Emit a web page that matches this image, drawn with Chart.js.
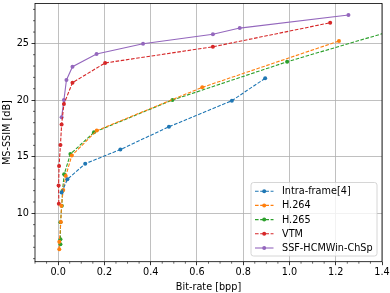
<!DOCTYPE html>
<html>
<head>
<meta charset="utf-8">
<script src="https://cdn.jsdelivr.net/npm/chart.js@4.4.0/dist/chart.umd.min.js"></script>
<style>
  html, body { margin: 0; padding: 0; background: #fff; }
  #wrap { width: 390px; height: 293px; }
</style>
</head>
<body>
<div id="wrap"><canvas id="rd"></canvas></div>
<script>
// values (bpp, dB)
const intraX = [0.015, 0.040, 0.117, 0.269, 0.479, 0.751, 0.895];
const intraY = [11.84, 13.0, 14.38, 15.63, 17.64, 19.94, 21.92];

const h264X = [0.005, 0.005, 0.012, 0.014, 0.022, 0.033, 0.059, 0.167, 0.623, 1.214];
const h264Y = [6.82, 7.49, 9.23, 10.67, 12.06, 13.29, 15.10, 17.30, 21.12, 25.21];

const h265X = [0.010, 0.010, 0.010, 0.016, 0.019, 0.026, 0.053, 0.155, 0.494, 0.990, 1.50];
const h265Y = [7.27, 7.71, 9.21, 10.67, 12.0, 13.44, 15.23, 17.15, 20.0, 23.38, 26.45];

const vtmX = [0.003, 0.002, 0.004, 0.010, 0.015, 0.025, 0.062, 0.203, 0.669, 1.176];
const vtmY = [10.85, 12.45, 14.17, 16.03, 17.84, 19.65, 21.53, 23.27, 24.70, 26.82];

const ssfX = [0.015, 0.025, 0.036, 0.062, 0.166, 0.367, 0.669, 0.785, 1.255];
const ssfY = [18.47, 20.0, 21.77, 22.94, 24.06, 24.97, 25.80, 26.35, 27.50];

const seriesNames = ["Intra-frame[4]", "H.264", "H.265", "VTM", "SSF-HCMWin-ChSp"];
const seriesColors = ["#1f77b4", "#ff7f0e", "#2ca02c", "#d62728", "#9467bd"];
const xTickVals = [0.0, 0.2, 0.4, 0.6, 0.8, 1.0, 1.2, 1.4];
const yTickVals = [10, 15, 20, 25];

const FONT = "DejaVu Sans";
const FS = 9.7;
const DASH = [3.6, 1.6];

function pts(xs, ys) { return xs.map((x, i) => ({ x: x, y: ys[i] })); }

function makeSet(i, xs, ys, dashed) {
  return {
    label: seriesNames[i],
    data: pts(xs, ys),
    showLine: true,
    borderColor: seriesColors[i],
    backgroundColor: seriesColors[i],
    borderWidth: 1.1,
    borderDash: dashed ? DASH : [],
    pointRadius: 2,
    pointBorderWidth: 0,
    pointHoverRadius: 2,
    tension: 0
  };
}

// spines, minor ticks and the legend box drawn on top
const frameAndLegend = {
  id: 'frameAndLegend',
  afterDraw(chart) {
    const ctx = chart.ctx, a = chart.chartArea;
    const xs = chart.scales.x, ys = chart.scales.y;
    ctx.save();
    // minor ticks
    ctx.strokeStyle = '#000';
    ctx.lineWidth = 0.6;
    ctx.beginPath();
    for (let k = -2; k <= 28; k++) {
      const v = k * 0.05;
      if (k % 4 === 0) continue;
      const px = xs.getPixelForValue(v);
      ctx.moveTo(px, a.bottom); ctx.lineTo(px, a.bottom + 2);
    }
    for (let v = 6; v <= 28; v++) {
      if (v % 5 === 0) continue;
      const py = ys.getPixelForValue(v);
      ctx.moveTo(a.left, py); ctx.lineTo(a.left - 2, py);
    }
    ctx.stroke();
    // spines
    ctx.lineWidth = 0.8;
    ctx.strokeRect(a.left, a.top, a.right - a.left, a.bottom - a.top);

    // legend
    const bx = 251, by = 182.5, bw = 126, bh = 73.5, r = 2.5;
    ctx.beginPath();
    ctx.moveTo(bx + r, by);
    ctx.arcTo(bx + bw, by, bx + bw, by + bh, r);
    ctx.arcTo(bx + bw, by + bh, bx, by + bh, r);
    ctx.arcTo(bx, by + bh, bx, by, r);
    ctx.arcTo(bx, by, bx + bw, by, r);
    ctx.closePath();
    ctx.fillStyle = 'rgba(255,255,255,0.8)';
    ctx.fill();
    ctx.strokeStyle = '#cccccc';
    ctx.lineWidth = 0.8;
    ctx.stroke();

    ctx.font = FS + 'px "' + FONT + '"';
    ctx.textBaseline = 'middle';
    for (let i = 0; i < seriesNames.length; i++) {
      const yy = 191.2 + i * 14.2;
      ctx.strokeStyle = seriesColors[i];
      ctx.lineWidth = 1.1;
      ctx.setLineDash(i < 4 ? DASH : []);
      ctx.beginPath();
      ctx.moveTo(255, yy); ctx.lineTo(273.5, yy);
      ctx.stroke();
      ctx.setLineDash([]);
      ctx.fillStyle = seriesColors[i];
      ctx.beginPath();
      ctx.arc(264.2, yy, 2, 0, Math.PI * 2);
      ctx.fill();
      ctx.fillStyle = '#000';
      ctx.fillText(seriesNames[i], 282, yy + 0.5);
    }
    ctx.restore();
  }
};

new Chart(document.getElementById('rd'), {
  type: 'scatter',
  data: {
    datasets: [
      makeSet(0, intraX, intraY, true),
      makeSet(1, h264X, h264Y, true),
      makeSet(2, h265X, h265Y, true),
      makeSet(3, vtmX, vtmY, true),
      makeSet(4, ssfX, ssfY, false)
    ]
  },
  options: {
    responsive: true,
    maintainAspectRatio: false,
    animation: false,
    devicePixelRatio: 1,
    layout: { padding: { left: 0, right: 8, top: 3.5, bottom: 0 } },
    plugins: {
      legend: { display: false },
      tooltip: { enabled: false }
    },
    scales: {
      x: {
        type: 'linear',
        min: -0.1,
        max: 1.4,
        afterBuildTicks(s) { s.ticks = xTickVals.map(v => ({ value: v })); },
        afterFit(s) { s.height = 31.3; s.paddingLeft = 0; s.paddingRight = 0; },
        grid: { color: '#b0b0b0', lineWidth: 0.8, tickColor: '#000', tickLength: 3.5 },
        border: { display: false },
        ticks: {
          color: '#000',
          font: { family: FONT, size: FS },
          padding: 1.5,
          maxRotation: 0,
          callback: v => v.toFixed(1)
        },
        title: {
          display: true,
          text: 'Bit-rate [bpp]',
          color: '#000',
          font: { family: FONT, size: FS },
          padding: { top: 0, bottom: 0 }
        }
      },
      y: {
        type: 'linear',
        min: 5.73,
        max: 28.52,
        afterBuildTicks(s) { s.ticks = yTickVals.map(v => ({ value: v })); },
        afterFit(s) { s.width = 35; s.paddingTop = 0; s.paddingBottom = 0; },
        grid: { color: '#b0b0b0', lineWidth: 0.8, tickColor: '#000', tickLength: 3.5 },
        border: { display: false },
        ticks: {
          color: '#000',
          font: { family: FONT, size: FS },
          padding: 2.5
        },
        title: {
          display: true,
          text: 'MS-SSIM [dB]',
          color: '#000',
          font: { family: FONT, size: FS },
          padding: { top: 1.5, bottom: 0 }
        }
      }
    }
  },
  plugins: [frameAndLegend]
});
</script>
</body>
</html>
